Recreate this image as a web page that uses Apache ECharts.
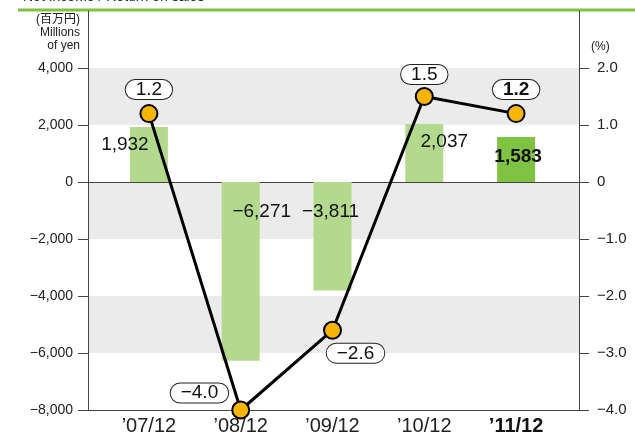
<!DOCTYPE html>
<html>
<head>
<meta charset="utf-8">
<script src="https://cdn.jsdelivr.net/npm/echarts@6/dist/echarts.min.js"></script>
<style>
  html, body { margin: 0; padding: 0; background: #fff; }
  #chart { width: 635px; height: 437px; }
</style>
</head>
<body>
<div id="chart"></div>
<script>
// Net income (millions of yen) and return on sales (%)
const categories = ['\u201907/12', '\u201908/12', '\u201909/12', '\u201910/12', '\u201911/12'];
const netIncome = [1932, -6271, -3811, 2037, 1583];
const returnOnSales = [1.2, -4.0, -2.6, 1.5, 1.2];
const leftTicks = [-8000, -6000, -4000, -2000, 0, 2000, 4000];
const rightTicks = [-4, -3, -2, -1, 0, 1, 2];

const FONT = "'Liberation Sans', Arial, 'Noto Sans CJK JP', sans-serif";
const AXIS_COLOR = '#444';
const LATEST = categories.length - 1;

const chart = echarts.init(document.getElementById('chart'));

// yen with thousands separator and a real minus sign
const fmtYen = v => (v < 0 ? '\u2212' : '') + Math.abs(v).toLocaleString('en-US');
const fmtPct = v => v === 0 ? '0' : (v < 0 ? '\u2212' : '') + Math.abs(v).toFixed(1);

// label nudges for bar values (x, y)
const barLabelShift = [[-24, 3], [21, 15], [-2, 15], [20, 3], [2, 5]];
// label placement for the ratio bubbles
const ratioLabelPos = [
    { position: 'top', distance: 5, offset: [0, 0] },
    { position: 'left', distance: 3, offset: [0, -17] },
    { position: 'bottom', distance: 4, offset: [23, 0] },
    { position: 'top', distance: 3, offset: [0, 0] },
    { position: 'top', distance: 5, offset: [0, 0] }
];

const barData = netIncome.map((v, i) => ({
    value: v,
    itemStyle: { color: i === LATEST ? '#80c342' : '#b3d98c' },
    label: {
        offset: barLabelShift[i],
        fontWeight: i === LATEST ? 'bold' : 'normal'
    }
}));

const lineData = returnOnSales.map((v, i) => ({
    value: v,
    label: Object.assign({ fontWeight: i === LATEST ? 'bold' : 'normal' }, ratioLabelPos[i])
}));

const option = {
    animation: false,
    textStyle: { fontFamily: FONT },
    title: {
        text: 'Net Income / Return on sales',
        left: 18,
        top: -15,
        textStyle: { fontSize: 14, fontWeight: 'normal', color: '#222', fontFamily: FONT }
    },
    graphic: [{
        type: 'line',
        shape: { x1: 18, y1: 10, x2: 635, y2: 10 },
        style: { stroke: '#7dc242', lineWidth: 3 }
    }],
    grid: [
        // frame: background bands, axis lines, ticks
        { left: 88, right: 56, top: 11, bottom: 27 },
        // data
        { left: 103, right: 73, top: 11, bottom: 27 }
    ],
    xAxis: [
        {
            gridIndex: 0, type: 'value', min: 0, max: 1, position: 'bottom',
            axisLine: { show: true, onZero: false, lineStyle: { color: AXIS_COLOR, width: 1 } },
            axisTick: { show: false }, axisLabel: { show: false }, splitLine: { show: false }
        },
        {
            gridIndex: 0, type: 'value', min: 0, max: 1, position: 'top',
            axisLine: { show: true, onZero: true, onZeroAxisIndex: 0, lineStyle: { color: AXIS_COLOR, width: 1 } },
            axisTick: { show: false }, axisLabel: { show: false }, splitLine: { show: false }
        },
        {
            gridIndex: 1, type: 'category', data: categories,
            axisLine: { show: false }, axisTick: { show: false }, splitLine: { show: false },
            axisLabel: {
                interval: 0, hideOverlap: false,
                fontSize: 20, color: '#222', margin: 6,
                formatter: v => v === categories[LATEST] ? '{b|' + v + '}' : v,
                rich: { b: { fontSize: 20, fontWeight: 'bold', color: '#111' } }
            }
        }
    ],
    yAxis: [
        {
            gridIndex: 0, type: 'value', position: 'left', min: -8000, max: 6000, interval: 2000,
            name: '(\u767e\u4e07\u5186)\nMillions\nof yen',
            nameLocation: 'end', nameGap: -2,
            nameTextStyle: {
                align: 'right', verticalAlign: 'top', fontSize: 12, lineHeight: 13,
                color: '#222', padding: [0, 8, 0, 0]
            },
            axisLine: { show: true, onZero: false, lineStyle: { color: AXIS_COLOR, width: 1 } },
            axisTick: { show: true, length: 10, customValues: leftTicks, lineStyle: { color: AXIS_COLOR } },
            axisLabel: { customValues: leftTicks, formatter: fmtYen, fontSize: 14, color: '#222', margin: 15 },
            splitLine: { show: false },
            splitArea: { show: true, areaStyle: { color: ['#ffffff', '#ebebeb'] } }
        },
        {
            gridIndex: 0, type: 'value', position: 'right', min: -4, max: 3, interval: 1,
            name: '(%)',
            nameLocation: 'end', nameGap: -30,
            nameTextStyle: { align: 'left', verticalAlign: 'top', fontSize: 12, color: '#222', padding: [0, 0, 0, 12] },
            axisLine: { show: true, onZero: false, lineStyle: { color: AXIS_COLOR, width: 1 } },
            axisTick: { show: true, length: 10, customValues: rightTicks, lineStyle: { color: AXIS_COLOR } },
            axisLabel: { customValues: rightTicks, formatter: fmtPct, fontSize: 15, color: '#222', margin: 18 },
            splitLine: { show: false }
        },
        {
            gridIndex: 1, type: 'value', min: -8000, max: 6000, interval: 2000, show: false
        },
        {
            gridIndex: 1, type: 'value', position: 'right', min: -4, max: 3, interval: 1, show: false
        }
    ],
    series: [
        {
            name: 'Net income',
            type: 'bar',
            xAxisIndex: 2,
            yAxisIndex: 2,
            barWidth: 38,
            data: barData,
            label: {
                show: true,
                position: 'insideTop',
                fontSize: 19,
                color: '#111',
                formatter: p => fmtYen(p.value)
            },
            z: 2
        },
        {
            name: 'Return on sales',
            type: 'line',
            xAxisIndex: 2,
            yAxisIndex: 3,
            data: lineData,
            symbol: 'circle',
            symbolSize: 17,
            lineStyle: { color: '#000', width: 3 },
            itemStyle: { color: '#f8b500', borderColor: '#000', borderWidth: 2 },
            label: {
                show: true,
                fontSize: 19,
                lineHeight: 18,
                color: '#111',
                backgroundColor: '#fff',
                borderColor: '#222',
                borderWidth: 1,
                borderRadius: 10,
                padding: [1, 10, 0, 10],
                formatter: p => fmtPct(p.value)
            },
            z: 5
        }
    ]
};

chart.setOption(option);
</script>
</body>
</html>
